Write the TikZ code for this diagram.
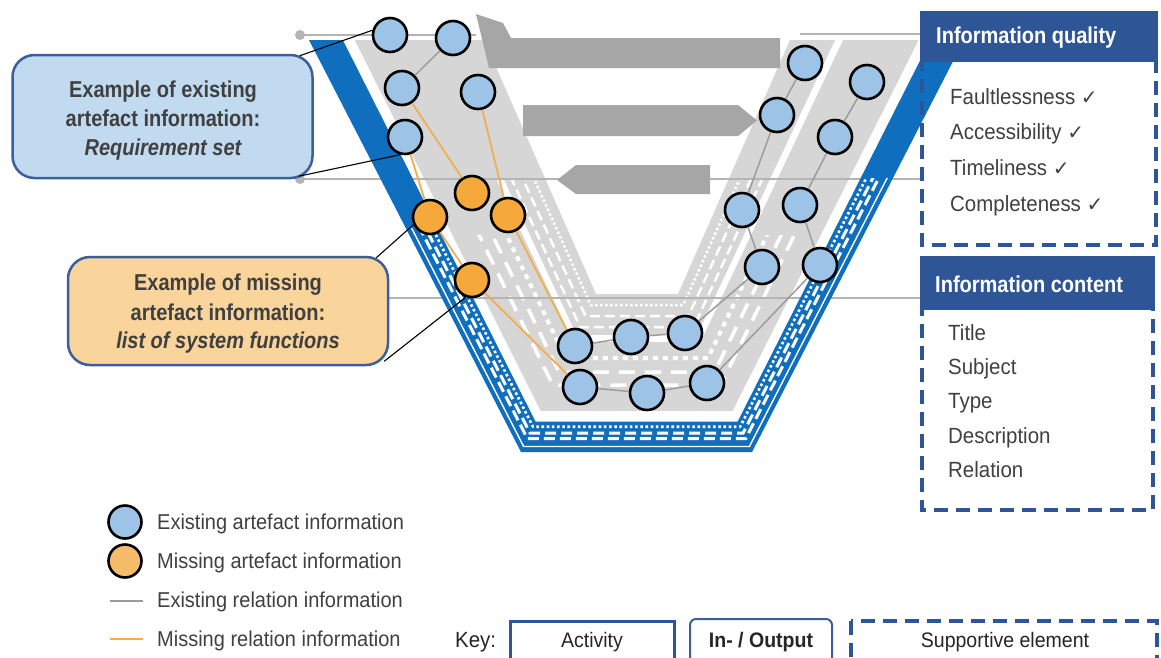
\documentclass[tikz,border=0pt]{standalone}
\usepackage{fontspec}
\setmainfont{Liberation Sans}
\newfontfamily\condfont[FakeStretch=0.87]{Liberation Sans}
\newfontfamily\listfont[FakeStretch=0.93]{Liberation Sans}
\newfontfamily\symfont{DejaVu Sans}
\usetikzlibrary{calc}

\definecolor{vblue}{HTML}{106EBE}
\definecolor{lanegrey}{HTML}{D6D6D6}
\definecolor{arrowgrey}{HTML}{A6A6A6}
\definecolor{levelgrey}{HTML}{B4B4B4}
\definecolor{cblue}{HTML}{9DC3E6}
\definecolor{corange}{HTML}{F4A93A}
\definecolor{lorange}{HTML}{F5BD69}
\definecolor{relgrey}{HTML}{9C9C9C}
\definecolor{relorange}{HTML}{F0AE4E}
\definecolor{navy}{HTML}{2E5596}
\definecolor{boxline}{HTML}{3B5E9C}
\definecolor{calloutblue}{HTML}{C2DAF0}
\definecolor{calloutorange}{HTML}{F9D49B}
\definecolor{txt}{HTML}{404040}

% V-shaped band between two relative insets (0 = outer edge, 1 = inner edge)
\newcommand{\Vband}[3]{\fill[#1] ({309+175*#2},40) -- ({521+75*#2},{452-158*#2}) -- ({752-74*#2},{452-158*#2}) -- ({964-174*#2},40) -- ({964-174*#3},40) -- ({752-74*#3},{452-158*#3}) -- ({521+75*#3},{452-158*#3}) -- ({309+175*#3},40) -- cycle;}
% V-shaped stroke at one relative inset
\newcommand{\Vstroke}[2]{\draw[#1] ({309+175*#2},40) -- ({521+75*#2},{452-158*#2}) -- ({752-74*#2},{452-158*#2}) -- ({964-174*#2},40);}
\newcommand{\chk}{{\symfont\fontsize{20}{20}\selectfont ✓}}

\begin{document}
\begin{tikzpicture}[x=1pt,y=-1pt,
  exist/.style={circle, draw=black, line width=2.6pt, fill=cblue, minimum size=34pt, inner sep=0pt},
  miss/.style={exist, fill=corange},
  rel/.style={draw=relgrey, line width=1.5pt},
  mrel/.style={draw=relorange, line width=1.8pt},
  level/.style={draw=levelgrey, line width=2.5pt},
  callout/.style={draw=boxline, line width=2.5pt, rounded corners=22pt, inner sep=0pt},
  pointer/.style={draw=black, line width=1.1pt},
  supdash/.style={draw=navy, line width=3.5pt, dash pattern=on 14pt off 8pt},
  calltext/.style={anchor=base, inner sep=0pt, text=txt, font=\condfont\bfseries\fontsize{23}{29}\selectfont},
  headtext/.style={anchor=base west, inner sep=0pt, text=white, font=\condfont\bfseries\fontsize{23}{27}\selectfont},
  listitem/.style={anchor=base west, inner sep=0pt, text=txt, font=\listfont\fontsize{22}{26}\selectfont},
  legtext/.style={anchor=base west, inner sep=0pt, text=txt, font=\listfont\fontsize{21.5}{26}\selectfont},
  keytext/.style={anchor=base, inner sep=0pt, text=black!85, font=\listfont\fontsize{21}{25}\selectfont}
]
\useasboundingbox (0,0) rectangle (1161,657);
\clip (0,0) rectangle (1161,657);
\fill[white] (0,0) rectangle (1161,657);

% grey activity lanes of the V
\Vband{lanegrey}{0.261}{0.695}
\Vband{lanegrey}{0.741}{1}
\begin{scope}
  \clip (0,0) rectangle (637,178);
  \Vband{lanegrey}{0.69}{0.75}
\end{scope}
\begin{scope}
  \clip (0,235) rectangle (1161,470);
  \Vstroke{white, line width=3.5pt, dash pattern=on 16pt off 10pt}{0.424}
  \Vstroke{white, line width=3.5pt, dash pattern=on 16pt off 10pt, dash phase=13pt}{0.506}
  \Vstroke{white, line width=4pt, dash pattern=on 5pt off 5pt}{0.595}
\end{scope}
\begin{scope}
  \clip (0,178) rectangle (1161,470);
  \Vstroke{white, line width=2.5pt, dash pattern=on 10pt off 5pt}{0.79}
  \Vstroke{white, line width=2.5pt, dash pattern=on 10pt off 5pt, dash phase=7pt}{0.86}
  \Vstroke{white, line width=2.5pt, dash pattern=on 2.5pt off 2.5pt}{0.93}
\end{scope}

% level lines
\draw[level] (300,35) -- (476,35);
\draw[level] (800,34) -- (922,34);
\draw[level] (300,179) -- (922,179);
\draw[level] (300,298) -- (922,298);
\fill[levelgrey] (300,35) circle (5);
\fill[levelgrey] (300,179) circle (5);

% blue supporting band
\Vband{vblue}{0}{0.193}
\begin{scope}
  \clip (0,228) rectangle (637,470) (637,178) rectangle (1000,470);
  \Vstroke{white, line width=1.4pt}{0.035}
  \Vstroke{white, line width=3pt, dash pattern=on 11pt off 5pt}{0.085}
  \Vstroke{white, line width=3pt, dash pattern=on 11pt off 5pt, dash phase=8pt}{0.12}
  \Vstroke{white, line width=2.6pt, dash pattern=on 2.6pt off 2.6pt}{0.16}
\end{scope}

% flow arrows
\fill[arrowgrey] (476,14) -- (503,23) -- (511,38) -- (780,38) -- (780,68) -- (489,68) -- cycle;
\fill[arrowgrey] (523,105) -- (738,105) -- (757,120.5) -- (738,136) -- (523,136) -- cycle;
\fill[arrowgrey] (557,180) -- (576,165) -- (710,165) -- (710,194) -- (576,194) -- cycle;

% artefact information
\node[exist] (e1) at (390,35) {};
\node[exist] (e2) at (453,38) {};
\node[exist] (e3) at (402,88) {};
\node[exist] (e4) at (478,92) {};
\node[exist] (e5) at (405,137) {};
\node[exist] (e6) at (805,63) {};
\node[exist] (e7) at (867,82) {};
\node[exist] (e8) at (777,115) {};
\node[exist] (e9) at (835,137) {};
\node[exist] (e10) at (742,210) {};
\node[exist] (e11) at (800,205) {};
\node[exist] (e12) at (762,267) {};
\node[exist] (e13) at (820,265) {};
\node[exist] (e14) at (575,346) {};
\node[exist] (e15) at (631,337) {};
\node[exist] (e16) at (685,333) {};
\node[exist] (e17) at (580,387) {};
\node[exist] (e18) at (647,393) {};
\node[exist] (e19) at (707,383) {};
\node[miss] (m1) at (472,193) {};
\node[miss] (m2) at (430,217) {};
\node[miss] (m3) at (508,215) {};
\node[miss] (m4) at (472,280) {};

% relation information
\draw[rel] (e2) -- (e3);
\draw[rel] (e6) -- (e8);
\draw[rel] (e7) -- (e9);
\draw[rel] (e8) -- (e10);
\draw[rel] (e9) -- (e11);
\draw[rel] (e10) -- (e12);
\draw[rel] (e11) -- (e13);
\draw[rel] (e12) -- (e16);
\draw[rel] (e13) -- (e19);
\draw[rel] (e14) -- (e15);
\draw[rel] (e15) -- (e16);
\draw[rel] (e17) -- (e18);
\draw[rel] (e18) -- (e19);
\draw[mrel] (e3) -- (m1);
\draw[mrel] (e4) -- (m3);
\draw[mrel] (e5) -- (m2);
\draw[mrel] (m2) -- (m4);
\draw[mrel] (m3) -- (e14);
\draw[mrel] (m4) -- (e17);

% example callouts
\node[callout, fill=calloutblue, minimum width=300pt, minimum height=123pt] (qbox) at (162.5,116.5) {};
\node[calltext] (q1) at (163,97) {Example of existing};
\node[calltext] (q2) at (163,126) {artefact information:};
\node[calltext, font=\condfont\bfseries\itshape\fontsize{23}{29}\selectfont] (q3) at (163,155) {Requirement set};
\node[callout, fill=calloutorange, minimum width=320pt, minimum height=108pt] (mbox) at (228,311) {};
\node[calltext] (r1) at (228,290) {Example of missing};
\node[calltext] (r2) at (228,320) {artefact information:};
\node[calltext, font=\condfont\bfseries\itshape\fontsize{23}{29}\selectfont] (r3) at (228,348) {list of system functions};
\draw[pointer] ($(qbox.north east)+(-14,2)$) -- (e1.165);
\draw[pointer] ($(qbox.south east)+(-15,-3)$) -- (e5.255);
\draw[pointer] ($(mbox.north east)+(-13,2)$) -- (m2.205);
\draw[pointer] ($(mbox.south east)+(-5,-5)$) -- (m4.250);

% supportive elements
\draw[supdash] (922,13) rectangle (1156,245);
\fill[navy] (920.25,11.25) rectangle (1157.75,62);
\node[headtext] (qh) at (936,43) {Information quality};
\node[listitem] (qa) at (950,104) {Faultlessness \chk};
\node[listitem] (qb) at (950,139) {Accessibility \chk};
\node[listitem] (qc) at (950,175) {Timeliness \chk};
\node[listitem] (qd) at (950,211) {Completeness \chk};

\draw[supdash] (922,258) rectangle (1153,510);
\fill[navy] (920.25,256.25) rectangle (1154.75,310);
\node[headtext] (ch) at (935,292) {Information content};
\node[listitem] (ca) at (948,340) {Title};
\node[listitem] (cb) at (948,374) {Subject};
\node[listitem] (cc) at (948,408) {Type};
\node[listitem] (cd) at (948,443) {Description};
\node[listitem] (ce) at (948,477) {Relation};

% legend
\node[exist, minimum size=33pt] (lg1) at (125,522) {};
\node[exist, minimum size=33pt, fill=lorange] (lg2) at (125,561) {};
\coordinate (lg3a) at (110,601);
\coordinate (lg3b) at (143,601);
\coordinate (lg4a) at (110,639);
\coordinate (lg4b) at (143,639);
\draw[rel, line width=2pt] (lg3a) -- (lg3b);
\draw[mrel, line width=2pt] (lg4a) -- (lg4b);
\node[legtext] (lt1) at (157,529) {Existing artefact information};
\node[legtext] (lt2) at (157,568) {Missing artefact information};
\node[legtext] (lt3) at (157,607) {Existing relation information};
\node[legtext] (lt4) at (157,646) {Missing relation information};

% key
\node[anchor=base west, inner sep=0pt, text=black!85, font=\listfont\fontsize{22}{26}\selectfont] (key) at (455,647) {Key:};
\draw[navy, line width=3pt] (510,621) rectangle (674,690);
\node[keytext] (ka) at (592,647) {Activity};
\draw[boxline, line width=2pt, rounded corners=6pt] (690,619) rectangle (832,690);
\node[keytext, font=\listfont\bfseries\fontsize{21}{25}\selectfont] (kb) at (761,647) {In- / Output};
\draw[supdash] (851,621) rectangle (1157,690);
\node[keytext] (kc) at (1005,647) {Supportive element};
\end{tikzpicture}
\end{document}
